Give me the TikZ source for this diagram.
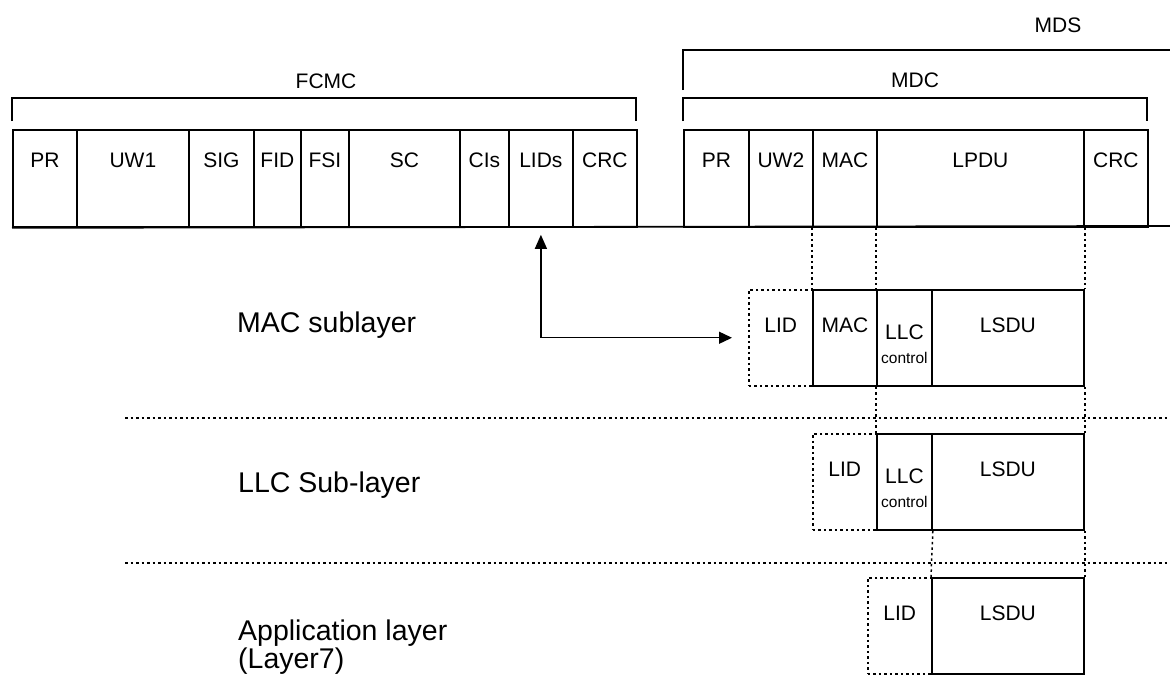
\documentclass[tikz,border=0pt]{standalone}
\usepackage{fontspec}
\setmainfont{Liberation Sans}
\usetikzlibrary{positioning,calc,arrows.meta}
\definecolor{ink}{HTML}{000000}
\definecolor{paper}{HTML}{ffffff}

\begin{document}
\begin{tikzpicture}[x=1pt,y=-1pt,
    cell/.style={draw=ink,line width=1.8pt,inner sep=0pt,anchor=north west,
      font=\fontsize{21}{24}\selectfont},
    toprow/.style={cell,text height=38pt,text depth=59pt},
    subrow/.style={cell,text height=43pt,text depth=53pt},
    ghost/.style={subrow,line width=1.5pt,dash pattern=on 2.5pt off 3pt},
    tag/.style={font=\fontsize{21}{24}\selectfont,inner sep=0pt,anchor=base},
    small/.style={font=\fontsize{15.5}{18}\selectfont,inner sep=0pt,anchor=base},
    layer/.style={font=\fontsize{28.5}{24}\selectfont,inner sep=0pt,anchor=base west,align=left},
    brace/.style={draw=ink,line width=1.3pt},
    dots/.style={draw=ink,line width=1.5pt,dash pattern=on 2.5pt off 3pt},
    link/.style={draw=ink,line width=1.3pt,
      {Triangle[length=14pt,width=12pt]}-{Triangle[length=13pt,width=12pt]}}]

  % Page + frame of the picture
  \fill[paper] (0,0) rectangle (1170,675);
  \useasboundingbox (0,0) rectangle (1170,675);

  % ---------------------------------------------------------------- FRAME ROW
  \foreach \id/\xa/\xb/\txt in {pra/12/76/PR,uwa/76/188/UW1,sig/188/253/SIG,
      fid/253/300/FID,fsi/300/348/FSI,sc/348/459/SC,cis/459/508/CIs,
      lids/508/572/LIDs,crca/572/636/CRC,
      prb/683/748/PR,uwb/748/812/UW2,macb/812/876/MAC,lpdu/876/1083/LPDU,
      crcb/1083/1147/CRC} {
    \node[toprow,minimum width=\xb-\xa] (\id) at (\xa,129) {\txt};
  }
  \draw[ink,line width=1.8pt] (pra.south west) -- (1170,226);

  % ---------------------------------------------------------------- BRACKETS
  \draw[brace] (12,121) |- (636,98) -- (636,121);
  \node[tag] (fcmc) at (326,88) {FCMC};
  \draw[brace] (683,121) |- (1147,98) -- (1147,121);
  \node[tag] (mdc) at (915,87) {MDC};
  \draw[brace] (683,90) |- (1170,50);
  \node[tag] (mds) at (1058,32) {MDS};

  % ---------------------------------------------------------------- MAC SUBLAYER
  \node[layer] (macl) at (237,332) {MAC sublayer};
  \node[ghost,minimum width=64] (lida) at (748,289) {LID};
  \node[subrow,minimum width=64] (maca) at (812,289) {MAC};
  \node[subrow,minimum width=55] (llca) at (876,289) {};
  \node[subrow,minimum width=152] (lsdua) at (931,289) {LSDU};
  \node[tag] (llcta) at ($(llca.north)+(0,50)$) {LLC};
  \node[small] (ctla) at ($(llca.north)+(0,74)$) {control};

  \draw[dots] (125,418) -- (1170,418);

  % ---------------------------------------------------------------- LLC SUB-LAYER
  \node[layer] (llcl) at (238,492) {LLC Sub-layer};
  \node[ghost,minimum width=64] (lidb) at (812,433) {LID};
  \node[subrow,minimum width=55] (llcb) at (876,433) {};
  \node[subrow,minimum width=152] (lsdub) at (931,433) {LSDU};
  \node[tag] (llctb) at ($(llcb.north)+(0,50)$) {LLC};
  \node[small] (ctlb) at ($(llcb.north)+(0,74)$) {control};

  \draw[dots] (125,563) -- (1170,563);

  % ---------------------------------------------------------------- APPLICATION LAYER
  \node[layer,anchor=north west] (appl) at (238,620) {Application layer\\(Layer7)};
  \node[ghost,minimum width=64] (lidc) at (867,577) {LID};
  \node[subrow,minimum width=152] (lsduc) at (931,577) {LSDU};

  % ---------------------------------------------------------------- DOTTED DROPS
  \draw[dots] (macb.south west) -- (maca.north west);
  \draw[dots] (lpdu.south west) -- (llca.north west);
  \draw[dots] (lpdu.south east) -- (lsdua.north east);
  \draw[dots] (llca.south west) -- (llcb.north west);
  \draw[dots] (lsdua.south east) -- (lsdub.north east);
  \draw[dots] (llcb.south east) -- (lsduc.north west);
  \draw[dots] (lsdub.south east) -- (lsduc.north east);

  % LID field of the frame handed down to the MAC sublayer
  \draw[link,shorten <=7pt,shorten >=16pt] (lids.south) |- (lida.west);

\end{tikzpicture}
\end{document}
